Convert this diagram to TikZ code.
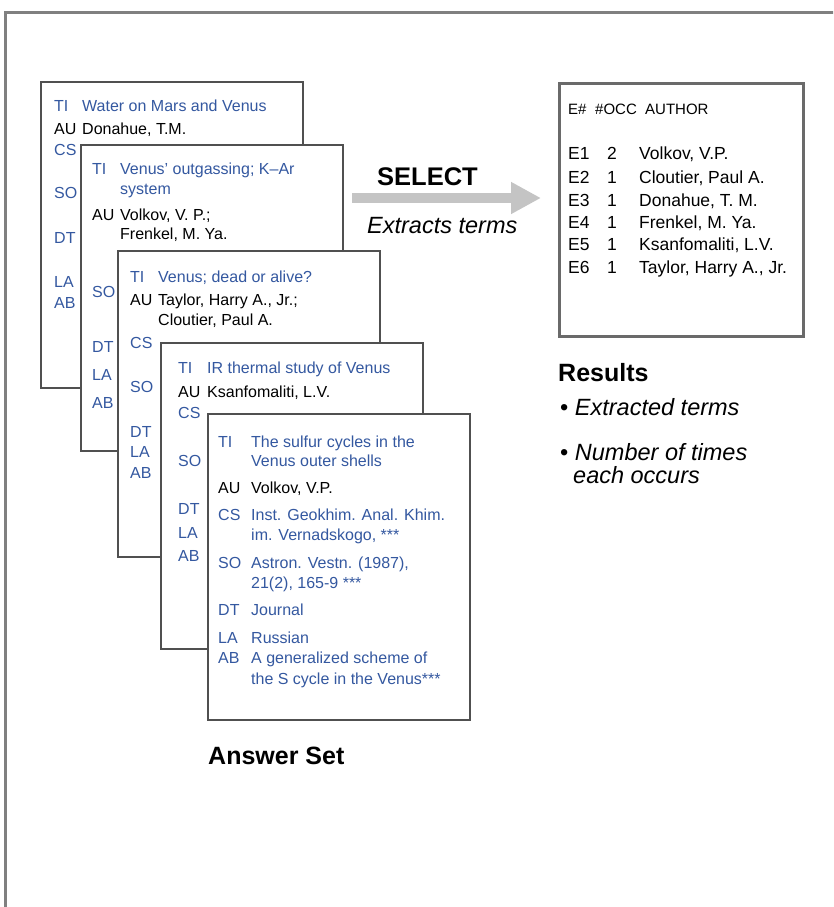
\documentclass[tikz,border=0pt]{standalone}
\usepackage{fontspec}
\setmainfont{Liberation Sans}
\usetikzlibrary{arrows.meta}

\definecolor{cardblue}{RGB}{52,88,160}
\definecolor{edgegray}{RGB}{80,80,80}
\definecolor{framegray}{RGB}{128,128,128}
\definecolor{arrowgray}{RGB}{196,196,196}

\newcommand{\cardsize}{\fontsize{16}{19}\selectfont}
\newcommand{\tabsize}{\fontsize{17.5}{21}\selectfont}
\newcommand{\headsize}{\fontsize{15}{18}\selectfont}

\tikzset{
  cardbox/.style={draw=edgegray, line width=2.2pt, fill=white, anchor=north west,
    inner sep=0pt, minimum width=262pt, minimum height=306pt},
  tablebox/.style={draw=edgegray!85, line width=2.8pt, fill=white, anchor=north west,
    inner sep=0pt, minimum width=244pt, minimum height=253pt},
  lbl/.style={anchor=west, inner sep=0pt, text height=11.5pt, text depth=0pt,
    font=\cardsize, text=cardblue},
  lblk/.style={lbl, text=black},
  tab/.style={anchor=west, inner sep=0pt, text height=12.5pt, text depth=0pt,
    font=\tabsize, text=black},
  tabc/.style={tab, anchor=center},
  tabh/.style={tab, text height=11pt, font=\headsize},
  heading/.style={anchor=west, inner sep=0pt, text height=18pt, text depth=0pt,
    font=\fontsize{25}{30}\selectfont\bfseries},
  note/.style={anchor=west, inner sep=0pt, text height=17pt, text depth=0pt,
    font=\fontsize{23.5}{28}\selectfont\itshape}
}

\begin{document}
\begin{tikzpicture}[x=1pt, y=-1pt]
\useasboundingbox (0,0) rectangle (833,907);
\clip (0,0) rectangle (833,907);

% outer frame, running off the right and bottom edges
\draw[framegray, line width=3pt] (5,930) -- (5,13) -- (860,13);

% ---- record 1
\node[cardbox] (card1) at (40,81) {};
\node[lbl]  (c1ti)  at (54,106) {TI};
\node[lbl]  (c1tit) at (82,106) {Water on Mars and Venus};
\node[lblk] (c1au)  at (54,129) {AU};
\node[lblk] (c1aut) at (82,129) {Donahue, T.M.};
\node[lbl]  (c1cs)  at (54,150) {CS};
\node[lbl]  (c1so)  at (54,193) {SO};
\node[lbl]  (c1dt)  at (54,238) {DT};
\node[lbl]  (c1la)  at (54,282) {LA};
\node[lbl]  (c1ab)  at (54,303) {AB};

% ---- record 2
\node[cardbox] (card2) at (80,144) {};
\node[lbl]  (c2ti)  at (92,169) {TI};
\node[lbl]  (c2tit) at (120,169) {Venus' outgassing; K--Ar};
\node[lbl]  (c2tib) at (120,189) {system};
\node[lblk] (c2au)  at (92,215) {AU};
\node[lblk] (c2aut) at (120,215) {Volkov, V. P.;};
\node[lblk] (c2aub) at (120,234) {Frenkel, M. Ya.};
\node[lbl]  (c2so)  at (92,292) {SO};
\node[lbl]  (c2dt)  at (92,347) {DT};
\node[lbl]  (c2la)  at (92,375) {LA};
\node[lbl]  (c2ab)  at (92,403) {AB};

% ---- record 3
\node[cardbox] (card3) at (117,250) {};
\node[lbl]  (c3ti)  at (130,277) {TI};
\node[lbl]  (c3tit) at (158,277) {Venus; dead or alive?};
\node[lblk] (c3au)  at (130,300) {AU};
\node[lblk] (c3aut) at (158,300) {Taylor, Harry A., Jr.;};
\node[lblk] (c3aub) at (158,320) {Cloutier, Paul A.};
\node[lbl]  (c3cs)  at (130,343) {CS};
\node[lbl]  (c3so)  at (130,387) {SO};
\node[lbl]  (c3dt)  at (130,432) {DT};
\node[lbl]  (c3la)  at (130,452) {LA};
\node[lbl]  (c3ab)  at (130,473) {AB};

% ---- record 4
\node[cardbox] (card4) at (160,342) {};
\node[lbl]  (c4ti)  at (178,368) {TI};
\node[lbl]  (c4tit) at (207,368) {IR thermal study of Venus};
\node[lblk] (c4au)  at (178,392) {AU};
\node[lblk] (c4aut) at (207,392) {Ksanfomaliti, L.V.};
\node[lbl]  (c4cs)  at (178,413) {CS};
\node[lbl]  (c4so)  at (178,461) {SO};
\node[lbl]  (c4dt)  at (178,509) {DT};
\node[lbl]  (c4la)  at (178,533) {LA};
\node[lbl]  (c4ab)  at (178,556) {AB};

% ---- record 5 (front)
\node[cardbox] (card5) at (207,413) {};
\node[lbl]  (c5ti)  at (218,442) {TI};
\node[lbl]  (c5tit) at (251,442) {The sulfur cycles in the};
\node[lbl]  (c5tib) at (251,461) {Venus outer shells};
\node[lblk] (c5au)  at (218,488) {AU};
\node[lblk] (c5aut) at (251,488) {Volkov, V.P.};
\node[lbl]  (c5cs)  at (218,515) {CS};
\node[lbl]  (c5cst) at (251,515) {Inst. Geokhim. Anal. Khim.};
\node[lbl]  (c5csb) at (251,535) {im. Vernadskogo, ***};
\node[lbl]  (c5so)  at (218,563) {SO};
\node[lbl]  (c5sot) at (251,563) {Astron. Vestn. (1987),};
\node[lbl]  (c5sob) at (251,583) {21(2), 165-9 ***};
\node[lbl]  (c5dt)  at (218,610) {DT};
\node[lbl]  (c5dtt) at (251,610) {Journal};
\node[lbl]  (c5la)  at (218,638) {LA};
\node[lbl]  (c5lat) at (251,638) {Russian};
\node[lbl]  (c5ab)  at (218,658) {AB};
\node[lbl]  (c5abt) at (251,658) {A generalized scheme of};
\node[lbl]  (c5abb) at (251,679) {the S cycle in the Venus***};

\node[heading] (answer) at (208,755) {Answer Set};

% ---- SELECT arrow
\coordinate (arrowtail) at (352,198);
\coordinate (arrowtip)  at (541,198);
\draw[arrowgray, line width=10pt,
      -{Triangle[width=30pt, length=30pt]}] (arrowtail) -- (arrowtip);
\node[heading, font=\fontsize{25.5}{30}\selectfont\bfseries] (select) at (377,176) {SELECT};
\node[note] (extracts) at (367,225) {Extracts terms};

% ---- result table
\node[tablebox] (table) at (558,82) {};
\node[tabh] (hE)   at (568,109) {E\#};
\node[tabh] (hOcc) at (595,109) {\#OCC};
\node[tabh] (hAu)  at (645,109) {AUTHOR};
\foreach \r/\e/\n/\a [count=\i] in
  {153/E1/2/{Volkov, V.P.},
   177/E2/1/{Cloutier, Paul A.},
   200/E3/1/{Donahue, T. M.},
   222/E4/1/{Frenkel, M. Ya.},
   244/E5/1/{Ksanfomaliti, L.V.},
   267/E6/1/{Taylor, Harry A., Jr.}}{
  \node[tab]  (row\i e) at (568,\r) {\e};
  \node[tabc] (row\i n) at (612,\r) {\n};
  \node[tab]  (row\i a) at (639,\r) {\a};
}

% ---- results notes
\node[heading] (results) at (558,372) {Results};
\node[note] (bul1) at (560,407) {\upshape\textbullet\ \itshape Extracted terms};
\node[note] (bul2) at (560,452) {\upshape\textbullet\ \itshape Number of times};
\node[note] (bul2b) at (573,475) {each occurs};
\end{tikzpicture}
\end{document}
